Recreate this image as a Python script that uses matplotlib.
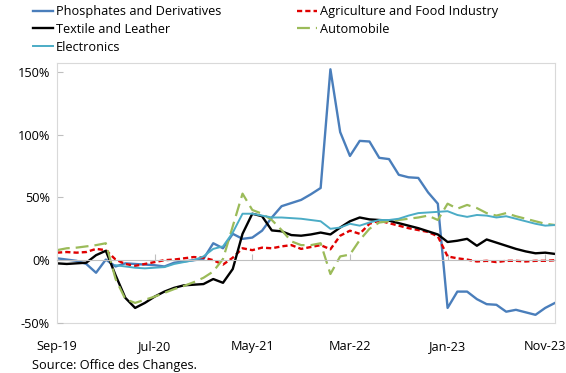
import numpy as np
import pandas as pd
import matplotlib
matplotlib.use("Agg")
import matplotlib.pyplot as plt
from matplotlib.ticker import FuncFormatter

plt.rcParams['font.family'] = ['Open Sans', 'DejaVu Sans']

# monthly export growth, %, Sep-19 .. Dec-23
months = pd.date_range('2019-09-01', periods=52, freq='MS').strftime('%b-%y').tolist()
tick_idx = [0, 10, 20, 30, 40, 50]

phosphates = [1.5, 0.5, -0.5, -3, -10, 0.5, -5, -2.5, -3, -3.5, -4, -5, -2, -1, 0, 1,
              13.5, 9.5, 21, 17, 18, 23.5, 34, 43, 45.5, 48, 52.5, 57.5, 152, 102,
              83, 95, 94.5, 81.5, 80.5, 68, 66, 65.5, 54, 45, -38, -25, -25, -31,
              -35, -35.5, -41, -39.5, -41.5, -43.5, -38, -34]
agriculture = [6, 6.5, 6, 6.5, 9, 8, 0.5, -3, -4.5, -3, -1.5, 0, 0.5, 1.5, 2.5, 2,
               0, -3.5, 2, 9.5, 8, 10, 9.5, 11, 12, 9, 10.5, 12, 8.7, 19.5, 23.5,
               21, 29, 31.5, 29.5, 27.5, 25.5, 24, 22.5, 19, 3, 1.5, 0.5, -1, -0.5,
               -1.5, -0.5, -0.5, -1, -0.5, -0.5, 0]
textile = [-2.5, -3, -2.5, -2, 4, 7.5, -12, -30, -38, -34, -29, -25, -22, -20,
           -19.5, -19, -15, -18, -7, 21, 37, 35, 23.7, 23, 20, 19.5, 20.5, 22, 20.5,
           26, 31, 34, 32.5, 32, 31.5, 29.5, 27.5, 25.5, 23, 20.5, 14.5, 15.5, 17,
           11.5, 16.5, 14, 11.5, 9, 7, 5.5, 6, 5]
automobile = [8, 9.5, 10, 11, 12, 13.5, -15, -31, -34, -31.5, -29, -26, -23, -20.5,
              -17.5, -14, -9, 1, 27, 53, 40, 37, 32, 24, 15, 12, 12, 13.5, -11, 3,
              4.5, 16, 25, 30, 31, 32, 33, 34, 35.5, 32, 45, 41, 44, 41.5, 37.5,
              35.5, 37.5, 35, 33, 31, 29, 28]
electronics = [np.nan] * 6 + [-4, -5, -6, -6.5, -6, -5.5, -3, -1.5, 0, 3, 9, 11, 22,
               37, 37, 35.5, 34, 34, 33.5, 33, 32, 31, 25, 26, 29, 27.5, 30, 32,
               32, 33, 35.5, 37.5, 38, 38.5, 39, 36, 34.5, 36, 35.5, 34, 35, 33,
               31, 29, 27.5, 28]

fig = plt.figure(figsize=(5.66, 3.73), dpi=100)
ax = fig.add_axes([57 / 566, 50 / 373, 498 / 566, 260 / 373])
x = np.arange(len(months))

l1, = ax.plot(x, phosphates, color='#4A7EBB', lw=1.7)
l2, = ax.plot(x, agriculture, color='#E00000', lw=1.7, dashes=(2.2, 1.3))
l3, = ax.plot(x, textile, color='black', lw=1.7)
l4, = ax.plot(x, automobile, color='#9BBB59', lw=1.6, dashes=(5.8, 2.7))
l5, = ax.plot(x, electronics, color='#4BACC6', lw=1.4)

ax.set_xlim(0, len(months) - 1)
ax.set_ylim(-50, 157)

grey = '#D9D9D9'
for s in ['top', 'left', 'right']:
    ax.spines[s].set_color(grey)
    ax.spines[s].set_linewidth(0.8)

# category axis crosses at zero, labels sit at the bottom of the frame
ax.spines['bottom'].set_position(('data', 0))
ax.spines['bottom'].set_color('#BFBFBF')
ax.spines['bottom'].set_linewidth(0.8)
ax.set_xticks(tick_idx)
ax.tick_params(axis='x', direction='in', length=4, color='#BFBFBF', labelbottom=False)

sec = ax.secondary_xaxis(0)
sec.set_xticks(tick_idx, [months[i] for i in tick_idx])
sec.tick_params(length=0, pad=12, labelsize=9.2)
sec.spines['bottom'].set_color(grey)
sec.spines['bottom'].set_linewidth(0.8)

ax.set_yticks([-50, 0, 50, 100, 150])
ax.yaxis.set_major_formatter(FuncFormatter(lambda v, p: f'{v:.0f}%'))
ax.tick_params(axis='y', direction='in', length=4, color='#BFBFBF', pad=5, labelsize=9.2)

fig.legend([l1, l3, l5, l2, l4],
           ['Phosphates and Derivatives', 'Textile and Leather', 'Electronics',
            'Agriculture and Food Industry', 'Automobile'],
           loc='upper left', bbox_to_anchor=(33 / 566, 1 - 5 / 373), ncol=2,
           frameon=False, fontsize=9.2, handlelength=1.6, handletextpad=0.2,
           columnspacing=5.9, labelspacing=0.38, borderpad=0, borderaxespad=0)

fig.text(32 / 566, 1 - 365 / 373, 'Source: Office des Changes.', fontsize=9.2, va='center')

fig.savefig('out.png', dpi=100)
